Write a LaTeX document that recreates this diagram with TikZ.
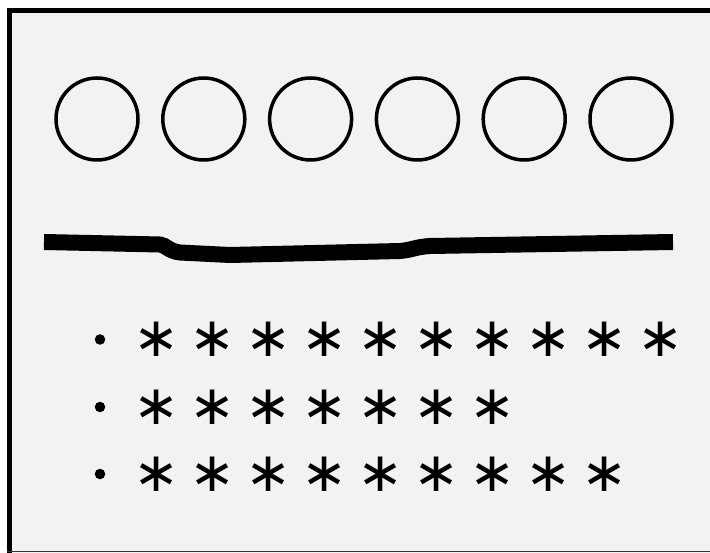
\documentclass[tikz,border=0pt]{standalone}
\usepackage{fontspec}
\newfontfamily\djv{DejaVu Sans}
\definecolor{bgpanel}{HTML}{F2F2F2}
\tikzset{
  ring/.style={circle, draw=black, line width=3.5pt, minimum size=82pt, inner sep=0pt},
  star/.style={inner sep=0pt, font=\djv\fontsize{55}{55}\selectfont},
  dotmark/.style={circle, fill=black, minimum size=10.5pt, inner sep=0pt},
}
\begin{document}
\begin{tikzpicture}[x=1pt,y=-1pt]
\useasboundingbox (0,0) rectangle (710,553);
\fill[bgpanel] (7,8) rectangle (710,553);
\draw[line width=5pt] (9.5,553) -- (9.5,10.5) -- (710,10.5);
\draw[line width=1.5pt, black!80] (7,551.5) -- (710,551.5);
% circles
\foreach \i in {0,...,5} {
  \node[ring] (c\i) at ({97+106.8*\i},119) {};
}
% thick line
\coordinate (l0) at (44,242);
\coordinate (l1) at (673,242);
\draw[line width=16pt] (l0) -- (160,244.5) .. controls (166,245) and (168,251) .. (180,252.5) -- (230,255) -- (400,251) .. controls (412,250) and (415,247) .. (430,246) -- (l1);
% rows
\foreach \r/\y/\n in {1/339.5/9, 2/407/6, 3/474/8} {
  \node[dotmark] (b\r) at (100,\y) {};
  \foreach \k in {0,...,\n} {
    \node[star] (s\r-\k) at ({157+56*\k},\y) {∗};
  }
}
\end{tikzpicture}
\end{document}
